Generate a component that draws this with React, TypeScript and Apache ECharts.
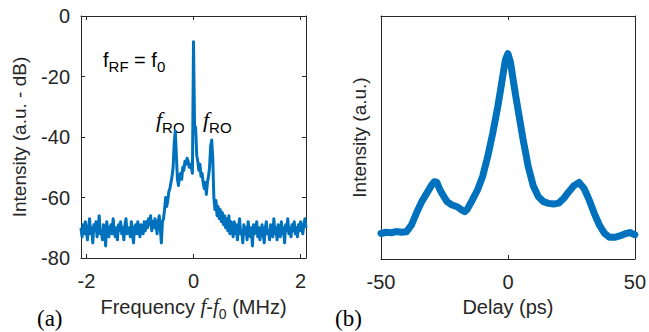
import React, { useEffect, useRef } from 'react';
import * as echarts from 'echarts';

// Panel (a): RF spectrum, sampled every 0.02 MHz from -2.1 MHz
const freqStart = -2.1;
const freqStep = 0.02;
const spectrumDb = [
  // -2.10 .. -0.90
  -70, -73, -69, -72, -68, -71, -74, -70, -67, -72,
  -70, -75, -69, -71, -68, -73, -70, -66, -72, -71,
  -74, -69, -70, -76, -68, -71, -73, -70, -69, -72,
  -67, -71, -73, -70, -74, -69, -71, -68, -72, -70,
  -74, -69, -67, -72, -71, -70, -73, -68, -71, -75,
  -70, -69, -72, -68, -71, -73, -69, -70, -72, -68,
  -71,
  // -0.88 .. -0.56
  -68, -70, -67, -69, -66, -71, -68, -70, -67, -69, -72, -68, -66, -70, -75, -68, -67,
  // -0.54 .. 0.70
  -64, -60, -63, -61, -58, -57, -55, -53, -50, -42,
  -38, -46, -54, -56, -53, -52, -54, -50, -51, -48,
  -49, -47, -48, -50, -49, -50, -52, -8.5, -36, -37,
  -46, -48, -51, -49, -53, -52, -55, -57, -55, -59,
  -55, -53, -50, -43, -41, -47, -60, -64, -61, -66,
  -63, -67, -64, -68, -65, -69, -66, -70, -67, -71,
  -66, -72, -68,
  // 0.72 .. 2.10
  -70, -73, -68, -72, -69, -74, -70, -67, -72, -71,
  -75, -69, -72, -70, -74, -68, -71, -73, -70, -76,
  -69, -72, -71, -68, -73, -70, -74, -71, -69, -72,
  -75, -70, -68, -72, -71, -74, -69, -70, -73, -67,
  -72, -70, -74, -69, -71, -73, -68, -72, -70, -75,
  -69, -71, -67, -72, -70, -73, -69, -71, -68, -72,
  -70, -73, -69, -71, -68, -70, -72, -69, -67, -70,
];

// Panel (b): autocorrelation trace
const delayPs = [
  -50, -48, -46, -44, -42, -40, -38, -36, -34, -32, -30, -29, -28, -27, -26, -24, -22, -20,
  -18, -17, -16, -14, -12, -10, -8, -6, -4, -3, -2, -1, 0, 1, 2, 3, 4, 6, 8, 10, 12, 14, 16,
  18, 20, 22, 24, 26, 28, 30, 32, 34, 36, 38, 40, 42, 44, 46, 48, 50,
];
const autocorr = [
  0.105, 0.11, 0.108, 0.113, 0.11, 0.112, 0.14, 0.19, 0.235, 0.27, 0.305, 0.318, 0.315, 0.29,
  0.27, 0.236, 0.222, 0.215, 0.2, 0.195, 0.205, 0.243, 0.284, 0.339, 0.42, 0.517, 0.627, 0.69,
  0.755, 0.82, 0.845, 0.81, 0.742, 0.675, 0.613, 0.49, 0.38, 0.3, 0.256, 0.236, 0.229, 0.226,
  0.23, 0.25, 0.277, 0.302, 0.315, 0.29, 0.243, 0.188, 0.14, 0.106, 0.089, 0.089, 0.095,
  0.103, 0.109, 0.1,
];

const xTicksA = [-2, 0, 2];
const yTicksA = [-80, -60, -40, -20, 0];
const xTicksB = [-50, 0, 50];

const LINE = '#0072BD';
const AX = '#262626';
const SANS = '"Liberation Sans", Arial, Helvetica, sans-serif';
const SERIF = '"Liberation Serif", "Times New Roman", serif';

export default function App() {
  const ref = useRef<HTMLDivElement>(null);
  useEffect(() => {
    if (!ref.current) return;
    const chart = echarts.init(ref.current, undefined, { renderer: 'svg' });
    const specData = spectrumDb.map((v, i) => [+(freqStart + i * freqStep).toFixed(2), v]);
    const acData = delayPs.map((d, i) => [d, autocorr[i]]);

    const axLine = { show: true, onZero: false, lineStyle: { color: AX, width: 1 } };
    const lbl = { color: AX, fontSize: 20, fontFamily: SANS };

    const option: any = {
      animation: false,
      grid: [
        { left: 81, top: 16, width: 225, height: 242 },
        { left: 381, top: 16, width: 257, height: 243 },
      ],
      xAxis: [
        {
          gridIndex: 0, type: 'value', min: -2.1, max: 2.1, position: 'bottom',
          axisLine: axLine,
          axisTick: { show: true, inside: true, length: 4, customValues: xTicksA, lineStyle: { color: AX } },
          axisLabel: { ...lbl, customValues: xTicksA, margin: 13 },
          splitLine: { show: false },
          name: '{t|Frequency }{i|f}{t|-}{i|f}{s|0}{t| (MHz)}',
          nameLocation: 'middle', nameGap: 33,
          nameTextStyle: {
            rich: {
              t: { fontSize: 20, fontFamily: SANS, color: AX, lineHeight: 25, verticalAlign: 'bottom' },
              i: { fontSize: 21, fontFamily: SERIF, fontStyle: 'italic', color: AX, lineHeight: 25, verticalAlign: 'bottom' },
              s: { fontSize: 14, fontFamily: SANS, color: AX, lineHeight: 20, verticalAlign: 'bottom', padding: [0, 0, -4, 0] },
            },
          },
        },
        {
          gridIndex: 0, type: 'value', min: -2.1, max: 2.1, position: 'top',
          axisLine: axLine,
          axisTick: { show: true, inside: true, length: 4, customValues: xTicksA, lineStyle: { color: AX } },
          axisLabel: { show: false }, splitLine: { show: false },
        },
        {
          gridIndex: 1, type: 'value', min: -50, max: 50, interval: 50, position: 'bottom',
          axisLine: axLine,
          axisTick: { show: true, inside: true, length: 4, lineStyle: { color: AX } },
          axisLabel: { ...lbl, margin: 13 },
          splitLine: { show: false },
          name: 'Delay (ps)', nameLocation: 'middle', nameGap: 33,
          nameTextStyle: { fontSize: 20, fontFamily: SANS, color: AX },
        },
        {
          gridIndex: 1, type: 'value', min: -50, max: 50, interval: 50, position: 'top',
          axisLine: axLine,
          axisTick: { show: true, inside: true, length: 4, lineStyle: { color: AX } },
          axisLabel: { show: false }, splitLine: { show: false },
        },
      ],
      yAxis: [
        {
          gridIndex: 0, type: 'value', min: -80, max: 0, interval: 20, position: 'left',
          axisLine: axLine,
          axisTick: { show: true, inside: true, length: 4, lineStyle: { color: AX } },
          axisLabel: { ...lbl, margin: 11 },
          splitLine: { show: false },
          name: 'Intensity (a.u. - dB)', nameLocation: 'middle', nameGap: 52,
          nameTextStyle: { fontSize: 19, fontFamily: SANS, color: AX },
        },
        {
          gridIndex: 0, type: 'value', min: -80, max: 0, interval: 20, position: 'right',
          axisLine: axLine,
          axisTick: { show: true, inside: true, length: 4, lineStyle: { color: AX } },
          axisLabel: { show: false }, splitLine: { show: false },
        },
        {
          gridIndex: 1, type: 'value', min: 0, max: 1, position: 'left',
          axisLine: axLine, axisTick: { show: false }, axisLabel: { show: false },
          splitLine: { show: false },
          name: 'Intensity (a.u.)', nameLocation: 'middle', nameGap: 12,
          nameTextStyle: { fontSize: 19, fontFamily: SANS, color: AX },
        },
        {
          gridIndex: 1, type: 'value', min: 0, max: 1, position: 'right',
          axisLine: axLine, axisTick: { show: false }, axisLabel: { show: false },
          splitLine: { show: false },
        },
      ],
      series: [
        {
          type: 'line', xAxisIndex: 0, yAxisIndex: 0, data: specData,
          showSymbol: false, symbol: 'none', lineStyle: { color: LINE, width: 3, join: 'round' },
          clip: true,
        },
        {
          type: 'line', xAxisIndex: 2, yAxisIndex: 2, data: acData,
          showSymbol: false, symbol: 'none', lineStyle: { color: LINE, width: 7, join: 'round', cap: 'round' },
          clip: true,
        },
      ],
      graphic: [
        {
          type: 'text', x: 37, y: 318,
          style: { text: '(a)', fill: '#000', fontSize: 23, fontFamily: SERIF, verticalAlign: 'middle' },
        },
        {
          type: 'text', x: 335, y: 318,
          style: { text: '(b)', fill: '#000', fontSize: 23, fontFamily: SERIF, verticalAlign: 'middle' },
        },
        {
          type: 'text', x: 103, y: 58,
          style: {
            text: '{a|f}{s|RF}{a| = f}{s|0}', fill: '#000', verticalAlign: 'middle',
            rich: {
              a: { fontSize: 20, fontFamily: SANS, fill: '#000', lineHeight: 24, verticalAlign: 'bottom' },
              s: { fontSize: 15, fontFamily: SANS, fill: '#000', lineHeight: 19, verticalAlign: 'bottom', padding: [0, 0, -4, 0] },
            },
          },
        },
        {
          type: 'text', x: 156, y: 118,
          style: {
            text: '{i|f}{s|RO}', fill: '#000', verticalAlign: 'middle',
            rich: {
              i: { fontSize: 22, fontFamily: SERIF, fontStyle: 'italic', fill: '#000', lineHeight: 25, verticalAlign: 'bottom' },
              s: { fontSize: 15, fontFamily: SANS, fill: '#000', lineHeight: 19, verticalAlign: 'bottom', padding: [0, 0, -4, 0] },
            },
          },
        },
        {
          type: 'text', x: 203, y: 118,
          style: {
            text: '{i|f}{s|RO}', fill: '#000', verticalAlign: 'middle',
            rich: {
              i: { fontSize: 22, fontFamily: SERIF, fontStyle: 'italic', fill: '#000', lineHeight: 25, verticalAlign: 'bottom' },
              s: { fontSize: 15, fontFamily: SANS, fill: '#000', lineHeight: 19, verticalAlign: 'bottom', padding: [0, 0, -4, 0] },
            },
          },
        },
      ],
    };
    chart.setOption(option);
    return () => chart.dispose();
  }, []);
  return (
    <div
      ref={ref}
      style={{ position: 'absolute', left: 0, top: 0, width: 649, height: 332, background: '#fff' }}
    />
  );
}
